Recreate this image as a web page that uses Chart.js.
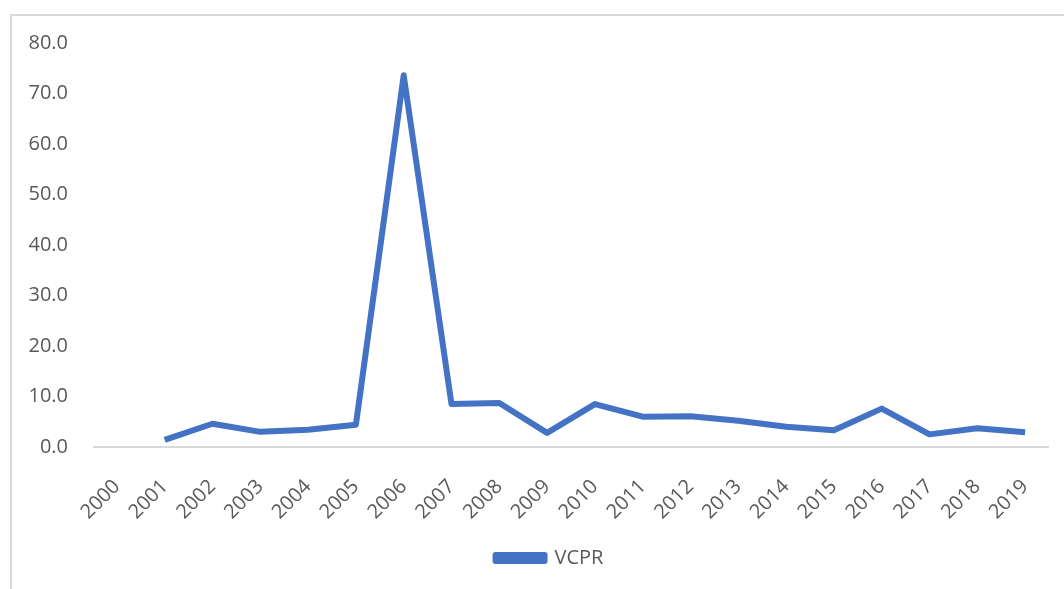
<!DOCTYPE html>
<html>
<head>
<meta charset="utf-8">
<script src="https://cdn.jsdelivr.net/npm/chart.js@4.4.1/dist/chart.umd.min.js"></script>
<style>
  html, body { margin: 0; padding: 0; background: #ffffff; }
  #wrap { position: relative; width: 1064px; height: 589px; overflow: hidden; }
  #frame { position: absolute; left: 10px; top: 14px; width: 1060px; height: 590px; border: 2px solid #d9d9d9; box-sizing: border-box; }
  canvas { position: absolute; left: 0; top: 0; }
</style>
</head>
<body>
<div id="wrap">
  <div id="frame"></div>
  <canvas id="c" width="1064" height="589"></canvas>
</div>
<script>
const years = ["2000","2001","2002","2003","2004","2005","2006","2007","2008","2009",
               "2010","2011","2012","2013","2014","2015","2016","2017","2018","2019"];
const seriesName = "VCPR";
const vcpr = [null, 1.4, 4.6, 3.0, 3.4, 4.4, 73.6, 8.5, 8.7, 2.8,
              8.5, 6.0, 6.1, 5.2, 4.0, 3.3, 7.6, 2.5, 3.7, 2.9];
const yTicks = [0, 10, 20, 30, 40, 50, 60, 70, 80];

const FONT = "'Open Sans', 'Noto Sans', sans-serif";
const TXT = "#595959";

const legendShift = {
  id: "legendShift",
  afterLayout(chart) {
    if (chart.legend) { chart.legend.left += 25; chart.legend.right += 25; }
  }
};

new Chart(document.getElementById("c"), {
  type: "line",
  data: {
    labels: years,
    datasets: [{
      label: seriesName,
      data: vcpr,
      borderColor: "#4472C4",
      backgroundColor: "#4472C4",
      borderWidth: 6,
      pointRadius: 0,
      tension: 0,
      spanGaps: false,
      borderCapStyle: "butt",
      borderJoinStyle: "round"
    }]
  },
  plugins: [legendShift],
  options: {
    responsive: false,
    animation: false,
    devicePixelRatio: 1,
    layout: { padding: { left: 0, right: 15, top: 43, bottom: 11 } },
    plugins: {
      legend: {
        position: "bottom",
        labels: {
          font: { family: FONT, size: 20 },
          color: TXT,
          boxWidth: 49,
          boxHeight: 6,
          padding: 10
        }
      },
      tooltip: { enabled: false }
    },
    scales: {
      x: {
        offset: true,
        grid: { display: false },
        border: { display: false },
        ticks: {
          font: { family: FONT, size: 20 },
          color: TXT,
          minRotation: 45,
          maxRotation: 45,
          autoSkip: false,
          padding: 20
        },
        afterFit: (s) => { s.height = 91; }
      },
      y: {
        min: 0,
        max: 80,
        afterBuildTicks: (s) => { s.ticks = yTicks.map(v => ({ value: v })); },
        grid: {
          drawTicks: false,
          lineWidth: 2,
          color: (ctx) => (ctx.tick && ctx.tick.value === 0) ? "#d9d9d9" : "rgba(0,0,0,0)"
        },
        border: { display: false },
        ticks: {
          font: { family: FONT, size: 20 },
          color: TXT,
          padding: 25,
          callback: (v) => Number(v).toFixed(1)
        },
        afterFit: (s) => { s.width = 93; }
      }
    }
  }
});
</script>
</body>
</html>
